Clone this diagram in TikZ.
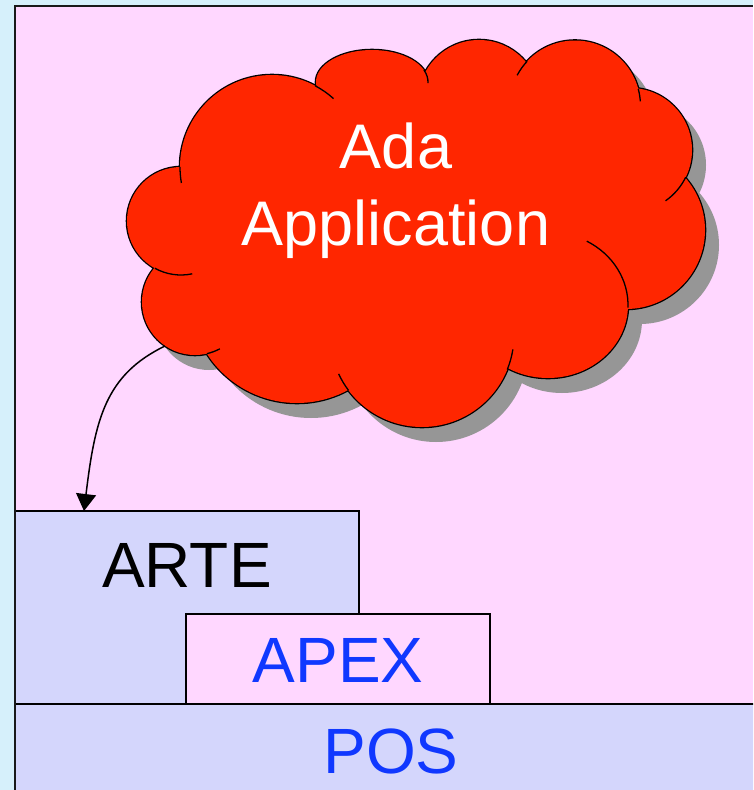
\documentclass[tikz,border=0pt]{standalone}
\usepackage{fontspec}
\setmainfont{Liberation Sans}
\usetikzlibrary{arrows.meta}
\definecolor{bgblue}{RGB}{214,240,251}
\definecolor{panelpink}{RGB}{255,215,255}
\definecolor{lav}{RGB}{212,214,252}
\definecolor{cloudred}{RGB}{255,38,0}
\definecolor{shadowgray}{RGB}{150,150,150}
\definecolor{txtblue}{RGB}{16,56,255}
\newcommand\cloudshapes{%
 (272,167) circle[radius=92]
 (372,82) ellipse[x radius=56, y radius=32]
 (479,101) circle[radius=61]
 (575,106) circle[radius=65.5]
 (630,150) circle[radius=62]
 (626,230) circle[radius=79]
 (548,305) ellipse[x radius=80, y radius=73]
 (422,335) circle[radius=92]
 (297,296) circle[radius=107]
 (195,302) circle[radius=53]
 (181,221) circle[radius=54]}
\newcommand\cloudcore{%
 (272,167) -- (372,82) -- (479,101) -- (575,106) -- (630,150) -- (626,230) -- (548,305) -- (422,335) -- (297,296) -- (195,302) -- (181,221) -- cycle}
\begin{document}
\begin{tikzpicture}[x=1pt,y=-1pt,
  layerbox/.style={draw=black, line width=1.5pt, rectangle, inner sep=0pt, outer sep=0pt, anchor=north west},
  bigtext/.style={font=\fontsize{64}{72}\selectfont, inner sep=0pt, anchor=base},
  cloudtext/.style={font=\fontsize{63}{70}\selectfont, inner sep=0pt, anchor=base, text=white},
  crease/.style={line width=1.3pt, black},
  link/.style={line width=1.5pt, -{Triangle[length=17pt,width=20pt]}}
]
\useasboundingbox (0,0) rectangle (753,790);
\clip (0,0) rectangle (753,790);
\fill[bgblue] (0,0) rectangle (753,790);
\fill[panelpink] (15,6) rectangle (753,790);
% cloud shadow
\begin{scope}[shift={(14,15)}]
\fill[shadowgray] \cloudcore;
\fill[shadowgray] \cloudshapes;
\end{scope}
% cloud outline and fill
\draw[line width=2.6pt, black] \cloudshapes;
\fill[cloudred] \cloudcore;
\fill[cloudred] \cloudshapes;
% creases
\draw[crease] (181,221) ++(78:54) arc[start angle=78, end angle=119, radius=54];
\draw[crease] (272,167) ++(170:92) arc[start angle=170, end angle=180, radius=92];
\draw[crease] (272,167) ++(-62:92) arc[start angle=-62, end angle=-48, radius=92];
\draw[crease] (372,82) ++(-22:56 and 32) arc[start angle=-22, end angle=2, x radius=56, y radius=32];
\draw[crease] (575,106) ++(208:65.5) arc[start angle=208, end angle=223, radius=65.5];
\draw[crease] (575,106) ++(-15:65.5) arc[start angle=-15, end angle=-4, radius=65.5];
\draw[crease] (630,150) ++(26:62) arc[start angle=26, end angle=55, radius=62];
\draw[crease] (548,305) ++(-61:80 and 73) arc[start angle=-61, end angle=2, x radius=80, y radius=73];
\draw[crease] (422,335) ++(9:92) arc[start angle=9, end angle=22, radius=92];
\draw[crease] (422,335) ++(143:92) arc[start angle=143, end angle=155, radius=92];
\draw[crease] (195,302) ++(62:53) arc[start angle=62, end angle=77, radius=53];
% cloud text
\node[cloudtext] (ada) at (396,168) {Ada};
\node[cloudtext] (app) at (396,245) {Application};
% layer boxes
\node[layerbox, fill=lav, minimum width=344pt, minimum height=193pt] (arte) at (15,511) {};
\node[layerbox, fill=panelpink, minimum width=304pt, minimum height=90pt] (apex) at (186,614) {};
\node[layerbox, fill=lav, minimum width=760pt, minimum height=100pt] (pos) at (15,704) {};
\node[bigtext] (artetext) at (187,587) {ARTE};
\node[bigtext, text=txtblue] (apextext) at (338,682) {APEX};
\node[bigtext, text=txtblue] (postext) at (391,773) {POS};
% connector
\coordinate (tail) at (165,346);
\coordinate (tip) at (84,511);
\draw[link] (tail) .. controls (105,375) and (95,420) .. (tip);
% panel border
\draw[line width=2pt, black!90] (15,790) -- (15,6) -- (753,6);
\end{tikzpicture}
\end{document}
